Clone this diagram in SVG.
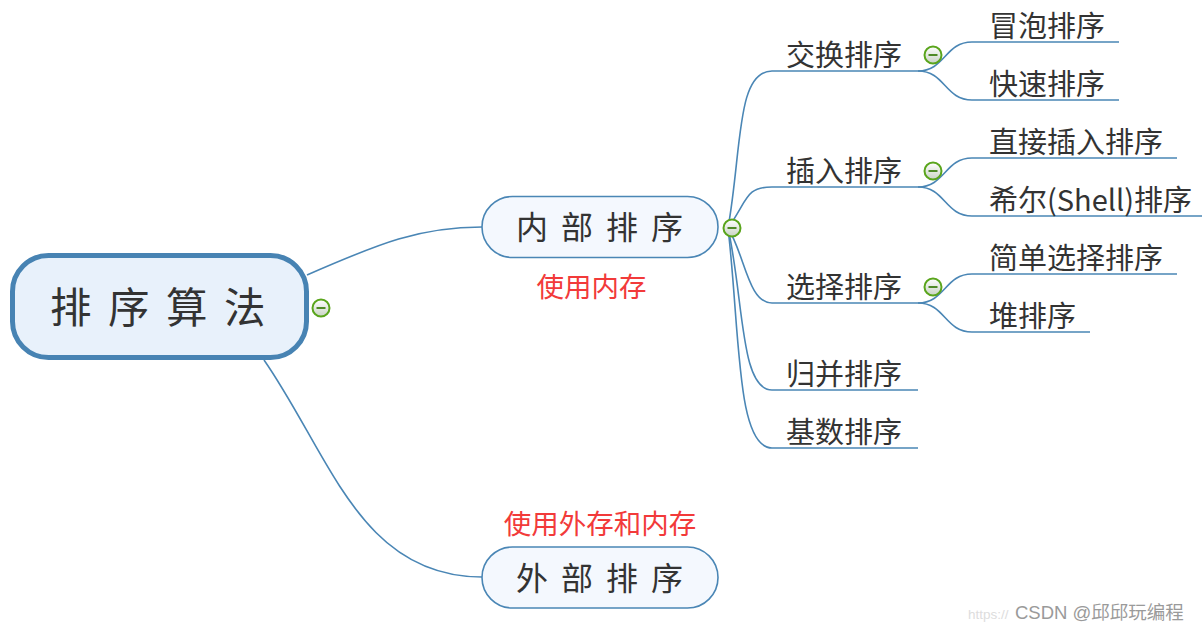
<svg xmlns="http://www.w3.org/2000/svg" width="1202" height="631" viewBox="0 0 1202 631">
<defs>
<linearGradient id="cg" x1="0" y1="0" x2="0" y2="1">
<stop offset="0" stop-color="#ffffff"/>
<stop offset="1" stop-color="#c9d3c4"/>
</linearGradient>
<g id="collapse">
<circle cx="0" cy="0" r="8.5" fill="url(#cg)" stroke="#5aa51c" stroke-width="2"/>
<line x1="-4.5" y1="0" x2="4.5" y2="0" stroke="#3f7f12" stroke-width="1.8"/>
</g>
</defs>
<style>
.conn{fill:none;stroke:#4a86b5;stroke-width:1.6}
.cjk{font-family:"Noto Sans CJK SC","Noto Sans",sans-serif;fill:#333333}
.red{font-family:"Noto Sans CJK SC","Noto Sans",sans-serif;fill:#f23a3a;font-size:27.5px}
.l2{font-size:29px}
.l3{font-size:29px}
</style>
<rect width="1202" height="631" fill="#ffffff"/>

<g id="connectors">
<path class="conn" d="M307,275 C380,243 420,227 482,227"/>
<path class="conn" d="M264,360 C330,455 360,577 482,577"/>
<path class="conn" d="M728,228 C742,150 736,71 772,71 L918,71"/>
<path class="conn" d="M728,228 C748,200 745,187 772,187 L918,187"/>
<path class="conn" d="M728,228 C745,255 748,303 772,303 L918,303"/>
<path class="conn" d="M728,228 C744,300 740,390 772,390 L918,390"/>
<path class="conn" d="M728,228 C740,330 736,448 772,448 L918,448"/>
<path class="conn" d="M918,71 C945,71 945,42 972,42 L1119,42"/>
<path class="conn" d="M918,71 C945,71 945,100 972,100 L1119,100"/>
<path class="conn" d="M918,187 C945,187 945,158 972,158 L1177,158"/>
<path class="conn" d="M918,187 C945,187 945,216 972,216 L1202,216"/>
<path class="conn" d="M918,303 C945,303 945,274 972,274 L1177,274"/>
<path class="conn" d="M918,303 C945,303 945,332 972,332 L1090,332"/>
</g>

<g id="root">
<rect x="12.5" y="255.5" width="294" height="102" rx="36" ry="36" fill="#e8f1fb" stroke="#4783b3" stroke-width="5"/>
<text class="cjk" x="166" y="323" font-size="41.5" text-anchor="middle" letter-spacing="16.5">排序算法</text>
<use href="#collapse" x="321" y="308"/>
</g>

<g id="internal">
<rect x="482" y="196.5" width="236" height="61" rx="30.5" ry="30.5" fill="#f4f8fe" stroke="#4a86b5" stroke-width="1.6"/>
<text class="cjk" x="606" y="239" font-size="32" text-anchor="middle" letter-spacing="13">内部排序</text>
<text class="red" x="591.5" y="297" text-anchor="middle">使用内存</text>
<use href="#collapse" x="732" y="228"/>
</g>

<g id="external">
<rect x="482" y="547" width="236" height="61" rx="30.5" ry="30.5" fill="#f4f8fe" stroke="#4a86b5" stroke-width="1.6"/>
<text class="cjk" x="606" y="590" font-size="32" text-anchor="middle" letter-spacing="13">外部排序</text>
<text class="red" x="600" y="534" text-anchor="middle">使用外存和内存</text>
</g>

<g id="exchange">
<text class="cjk l2" x="786" y="66">交换排序</text>
<use href="#collapse" x="933" y="55"/>
</g>
<g id="insert">
<text class="cjk l2" x="786" y="182">插入排序</text>
<use href="#collapse" x="933" y="171"/>
</g>
<g id="select">
<text class="cjk l2" x="786" y="298">选择排序</text>
<use href="#collapse" x="933" y="287"/>
</g>
<g id="merge">
<text class="cjk l2" x="786" y="385">归并排序</text>
</g>
<g id="radix">
<text class="cjk l2" x="786" y="443">基数排序</text>
</g>

<g id="bubble"><text class="cjk l3" x="989" y="37">冒泡排序</text></g>
<g id="quick"><text class="cjk l3" x="989" y="95">快速排序</text></g>
<g id="straight"><text class="cjk l3" x="989" y="153">直接插入排序</text></g>
<g id="shell"><text class="cjk l3" x="989" y="211">希尔(Shell)排序</text></g>
<g id="simple"><text class="cjk l3" x="989" y="269">简单选择排序</text></g>
<g id="heap"><text class="cjk l3" x="989" y="327">堆排序</text></g>

<g id="watermark">
<text x="968" y="619" font-family="Liberation Sans, sans-serif" font-size="13.5" fill="#dddddd">https://</text>
<text x="1015" y="619" font-family="Liberation Sans,'Noto Sans CJK SC',sans-serif" font-size="18.5" fill="#9a9a9a">CSDN @邱邱玩编程</text>
</g>
</svg>
